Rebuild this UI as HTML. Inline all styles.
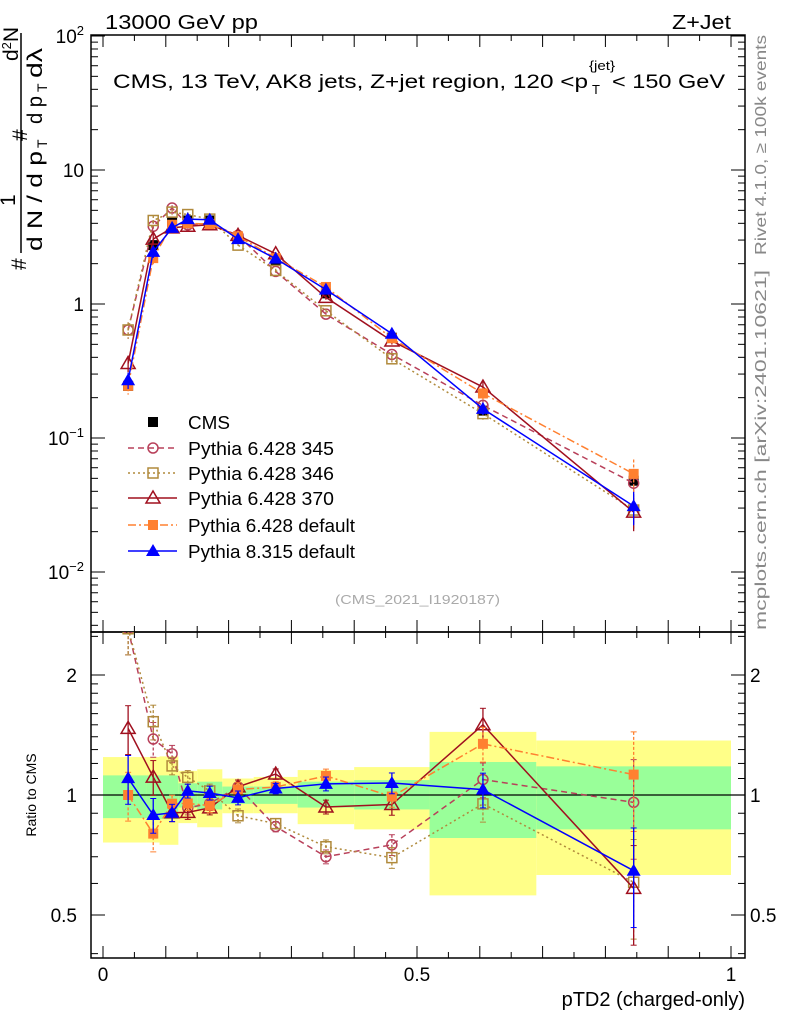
<!DOCTYPE html>
<html><head><meta charset="utf-8"><style>
body{margin:0;background:#fff;}
svg{display:block;font-family:"Liberation Sans",sans-serif;}
</style></head><body>
<svg id="c" width="786" height="1024" xmlns="http://www.w3.org/2000/svg">
<text x="105" y="29" font-size="20" textLength="153" lengthAdjust="spacingAndGlyphs">13000 GeV pp</text>
<text x="672" y="29" font-size="20" textLength="59" lengthAdjust="spacingAndGlyphs">Z+Jet</text>
<g>
<text x="113" y="88" font-size="19" textLength="475" lengthAdjust="spacingAndGlyphs">CMS, 13 TeV, AK8 jets, Z+jet region, 120 &lt;p</text>
<text x="592" y="94" font-size="13">T</text>
<text x="589" y="70" font-size="13" textLength="26" lengthAdjust="spacingAndGlyphs">{jet}</text>
<text x="612" y="88" font-size="19" textLength="113" lengthAdjust="spacingAndGlyphs">&lt; 150 GeV</text>
</g>
<text transform="translate(766,255) rotate(-90)" font-size="16" fill="#888" textLength="220" lengthAdjust="spacingAndGlyphs">Rivet 4.1.0, ≥ 100k events</text>
<text transform="translate(766,630) rotate(-90)" font-size="16" fill="#888" textLength="360" lengthAdjust="spacingAndGlyphs">mcplots.cern.ch [arXiv:2401.10621]</text>
<text x="335" y="604" font-size="13" fill="#aaa" textLength="165" lengthAdjust="spacingAndGlyphs">(CMS_2021_I1920187)</text>
<text x="745" y="1006" font-size="20" text-anchor="end">pTD2 (charged-only)</text>
<text transform="translate(36,795) rotate(-90)" font-size="14" text-anchor="middle">Ratio to CMS</text>
<g font-size="21">
<text transform="translate(26,270) rotate(-90)">#</text>
<text transform="translate(15,206) rotate(-90)">1</text>
<line x1="21" y1="253" x2="21" y2="33" stroke="#000" stroke-width="1.5"/>
<text transform="translate(42,251) rotate(-90)" textLength="100" lengthAdjust="spacingAndGlyphs">d N / d p</text>
<text transform="translate(47,148) rotate(-90)" font-size="14">T</text>
<text transform="translate(27,141) rotate(-90)">#</text>
<text transform="translate(18,61) rotate(-90)">d<tspan font-size="13" dy="-7">2</tspan><tspan dy="7">N</tspan></text>
<text transform="translate(42,124) rotate(-90)" textLength="28" lengthAdjust="spacingAndGlyphs">d p</text>
<text transform="translate(47,92) rotate(-90)" font-size="14">T</text>
<text transform="translate(42,78) rotate(-90)" textLength="30" lengthAdjust="spacingAndGlyphs">dλ</text>
</g>
<g id="plot"></g>
</svg>
<script>
const xVals=[0.04,0.08,0.11,0.135,0.17,0.215,0.275,0.355,0.46,0.605,0.845];
const binEdges=[0,0.07,0.09,0.12,0.15,0.19,0.24,0.31,0.40,0.52,0.69,1.0];
const cmsVals=[0.245,2.75,4.1,4.2,4.2,3.1,2.1,1.2,0.56,0.16,0.048];
const p345=[0.64,3.8,5.2,3.9,4.0,3.25,1.75,0.84,0.42,0.175,0.046];
const p346=[0.64,4.2,4.85,4.65,4.3,2.75,1.78,0.89,0.39,0.152,0.029];
const p370=[0.36,3.05,3.7,3.8,3.9,3.25,2.37,1.12,0.53,0.24,0.028];
const p6def=[0.245,2.2,3.9,4.0,3.95,3.2,2.2,1.34,0.555,0.215,0.054];
const p8=[0.27,2.45,3.7,4.3,4.25,3.05,2.18,1.28,0.6,0.165,0.031];
const mcRelErr=[0.14,0.1,0.05,0.04,0.04,0.04,0.03,0.04,0.06,0.1,0.28];
const yellowLo=[0.76,0.76,0.75,0.85,0.83,0.9,0.9,0.845,0.82,0.56,0.63];
const yellowHi=[1.245,1.245,1.25,1.15,1.16,1.1,1.11,1.155,1.175,1.44,1.37];
const greenLo=[0.875,0.875,0.87,0.93,0.92,0.95,0.95,0.93,0.92,0.78,0.82];
const greenHi=[1.12,1.12,1.12,1.07,1.08,1.05,1.05,1.08,1.09,1.21,1.18];
const yTickLabels=["10⁻²","10⁻¹","1","10","10²"];
const xTickLabels=["0","0.5","1"];

const NS="http://www.w3.org/2000/svg";
const g=document.getElementById('plot');
function el(t,a,p){const e=document.createElementNS(NS,t);for(const k in a)e.setAttribute(k,a[k]);(p||g).appendChild(e);return e;}
const X0=91,X1=745,T=35,M=632,B=958;
const sx=v=>103+628*v;
const sy=v=>304-134*Math.log10(v);
const sr=v=>795-120*Math.log2(v);
const defs=el('defs',{});
const cp1=el('clipPath',{id:'cm'},defs);el('rect',{x:X0,y:T,width:X1-X0,height:M-T},cp1);
const cp2=el('clipPath',{id:'cr'},defs);el('rect',{x:X0,y:M,width:X1-X0,height:B-M},cp2);
const bandG=el('g',{'clip-path':'url(#cr)'});


for(let i=0;i<xVals.length;i++){
  const x=sx(binEdges[i]),w=sx(binEdges[i+1])-x;
  const y=el('rect',{x:x,y:sr(yellowHi[i]),width:w,height:sr(yellowLo[i])-sr(yellowHi[i]),fill:'#ffff88'},bandG);
  
  
  const gr=el('rect',{x:x,y:sr(greenHi[i]),width:w,height:sr(greenLo[i])-sr(greenHi[i]),fill:'#99ff99'},bandG);
  
  
}
el('line',{x1:X0,x2:X1,y1:sr(1),y2:sr(1),stroke:'#000','stroke-width':1.3});
el('rect',{x:X0,y:T,width:X1-X0,height:M-T,fill:'none',stroke:'#000','stroke-width':1.5});
el('rect',{x:X0,y:M,width:X1-X0,height:B-M,fill:'none',stroke:'#000','stroke-width':1.5});
for(let k=0;k<=20;k++){const v=k*0.05,x=sx(v);const L=(k%2==0)?12:6;
  [[M,-1],[T,1],[B,-1],[M,1]].forEach(([y,d])=>el('line',{x1:x,x2:x,y1:y,y2:y+d*L,stroke:'#000'}));}
xTickLabels.forEach((t,i)=>{const tx=el('text',{x:sx(i*0.5),y:981,'font-size':19,'text-anchor':'middle'});tx.textContent=t;
  
  });
for(let d=-3;d<=2;d++){for(let m=1;m<10;m++){const v=m*Math.pow(10,d);const y=sy(v);if(y<T||y>M)continue;const L=m==1?14:7;
  el('line',{x1:X0,x2:X0+L,y1:y,y2:y,stroke:'#000'});el('line',{x1:X1,x2:X1-L,y1:y,y2:y,stroke:'#000'});}}
yTickLabels.forEach((t,i)=>{const v=Math.pow(10,i-2);const tx=el('text',{x:84,y:sy(v)+7,'font-size':19,'text-anchor':'end'});
  if(i==0||i==1){tx.innerHTML='10<tspan font-size="13" dy="-8">'+(i==0?'−2':'−1')+'</tspan>';}
  else if(i==4){tx.innerHTML='10<tspan font-size="13" dy="-8">2</tspan>';}
  else tx.textContent=t;
  
  });
[0.4,0.5,0.6,0.7,0.8,0.9,1,1.1,1.2,1.3,1.4,1.5,1.6,1.7,1.8,1.9,2,2.5].forEach(v=>{const y=sr(v);if(y<M||y>B)return;const L=(v==0.5||v==1||v==2)?14:7;
  el('line',{x1:X0,x2:X0+L,y1:y,y2:y,stroke:'#000'});el('line',{x1:X1,x2:X1-L,y1:y,y2:y,stroke:'#000'});});
[["2",2],["1",1],["0.5",0.5]].forEach(([t,v])=>{
  const a=el('text',{x:77,y:sr(v)+7,'font-size':19,'text-anchor':'end'});a.textContent=t;
  
  
  const b=el('text',{x:750,y:sr(v)+7,'font-size':19});b.textContent=t;
  
  });

function marker(par,type,x,y,col){
  if(type=='circle')return el('circle',{cx:x,cy:y,r:5,fill:'none',stroke:col,'stroke-width':1.5},par);
  if(type=='osq')return el('rect',{x:x-5,y:y-5,width:10,height:10,fill:'none',stroke:col,'stroke-width':1.5},par);
  if(type=='sq')return el('rect',{x:x-5,y:y-5,width:10,height:10,fill:col},par);
  if(type=='otri')return el('path',{d:`M${x},${y-7}L${x+7},${y+5}L${x-7},${y+5}Z`,fill:'none',stroke:col,'stroke-width':1.5},par);
  if(type=='tri')return el('path',{d:`M${x},${y-7}L${x+7},${y+5}L${x-7},${y+5}Z`,fill:col},par);
}
const series=[
 {name:'Pythia 6.428 345',vals:p345,col:'#b8405a',dash:'6,4',m:'circle',id:'p345'},
 {name:'Pythia 6.428 346',vals:p346,col:'#b08a3c',dash:'2,3',m:'osq',id:'p346'},
 {name:'Pythia 6.428 370',vals:p370,col:'#a0101f',dash:'',m:'otri',id:'p370'},
 {name:'Pythia 6.428 default',vals:p6def,col:'#ff8030',dash:'8,3,2,3',m:'sq',id:'p6-default'},
 {name:'Pythia 8.315 default',vals:p8,col:'#0000ff',dash:'',m:'tri',id:'p8-default'}];
const cg=el('g',{'clip-path':'url(#cm)'});


cmsVals.forEach((v,i)=>{el('line',{x1:sx(xVals[i]),x2:sx(xVals[i]),y1:sy(v*1.05),y2:sy(v*0.95),stroke:'#000'},cg);
  const mk=marker(cg,'sq',sx(xVals[i]),sy(v),'#000');
  
  });
series.forEach(s=>{
  const gm=el('g',{'clip-path':'url(#cm)'});
  
  
  const gr=el('g',{'clip-path':'url(#cr)'});
  
  
  const pm=s.vals.map((v,i)=>sx(xVals[i])+','+sy(v)).join(' ');
  const rat=s.vals.map((v,i)=>v/cmsVals[i]);
  const pr=rat.map((r,i)=>sx(xVals[i])+','+sr(r)).join(' ');
  el('polyline',{points:pm,fill:'none',stroke:s.col,'stroke-width':1.5,'stroke-dasharray':s.dash},gm);
  el('polyline',{points:pr,fill:'none',stroke:s.col,'stroke-width':1.5,'stroke-dasharray':s.dash},gr);
  s.vals.forEach((v,i)=>{const x=sx(xVals[i]),e=mcRelErr[i];
    el('line',{x1:x,x2:x,y1:sy(v*(1+e)),y2:sy(v*(1-e)),stroke:s.col,'stroke-width':1.3,'stroke-dasharray':s.dash?'3,2':''},gm);
    const a=marker(gm,s.m,x,sy(v),s.col);
    
    
    const r=rat[i];
    el('line',{x1:x,x2:x,y1:sr(r*(1+e)),y2:sr(r*(1-e)),stroke:s.col,'stroke-width':1.3,'stroke-dasharray':s.dash?'3,2':''},gr);
    [[r*(1+e)],[r*(1-e)]].forEach(([q])=>el('line',{x1:x-3,x2:x+3,y1:sr(q),y2:sr(q),stroke:s.col},gr));
    const b=marker(gr,s.m,x,sr(r),s.col);
    
    
  });
});
const lg=el('g',{});


const rowsY=[422,448,473,498,525,551];
const legW=[42,146,146,146,167,167];
const e0=el('g',{},lg);


marker(e0,'sq',153,rowsY[0],'#000');
const t0=el('text',{x:188,y:rowsY[0]+7,'font-size':18,textLength:legW[0],lengthAdjust:'spacingAndGlyphs'},e0);t0.textContent='CMS';
series.forEach((s,i)=>{const ge=el('g',{},lg);
  
  
  const y=rowsY[i+1];
  el('line',{x1:128,x2:177,y1:y,y2:y,stroke:s.col,'stroke-width':1.5,'stroke-dasharray':s.dash},ge);
  marker(ge,s.m,153,y,s.col);
  const t=el('text',{x:188,y:y+7,'font-size':18,textLength:legW[i+1],lengthAdjust:'spacingAndGlyphs'},ge);t.textContent=s.name;});
</script>
</body></html>
